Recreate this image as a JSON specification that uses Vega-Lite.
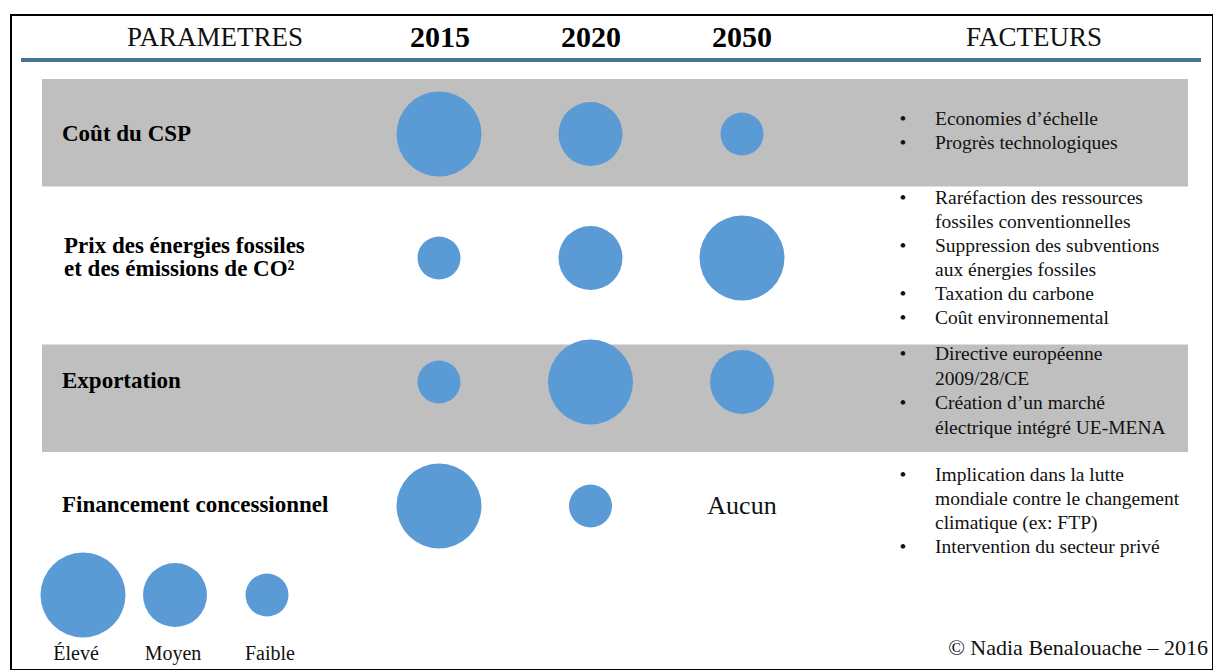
{
  "$schema": "https://vega.github.io/schema/vega-lite/v6.json",
  "width": 1202,
  "height": 655,
  "autosize": {"type": "none"},
  "padding": {"left": 11, "top": 15, "right": 0, "bottom": 0},
  "background": "white",
  "config": {
    "view": {"stroke": "#000000", "strokeWidth": 2},
    "font": "Liberation Serif",
    "text": {"font": "Liberation Serif", "color": "#111111"}
  },
  "resolve": {"scale": {"x": "independent", "y": "independent"}},
  "datasets": {
    "cercles": [
      {"parametre": "Coût du CSP", "annee": "2015", "niveau": "Élevé"},
      {"parametre": "Coût du CSP", "annee": "2020", "niveau": "Moyen"},
      {"parametre": "Coût du CSP", "annee": "2050", "niveau": "Faible"},
      {"parametre": "Prix des énergies fossiles et des émissions de CO²", "annee": "2015", "niveau": "Faible"},
      {"parametre": "Prix des énergies fossiles et des émissions de CO²", "annee": "2020", "niveau": "Moyen"},
      {"parametre": "Prix des énergies fossiles et des émissions de CO²", "annee": "2050", "niveau": "Élevé"},
      {"parametre": "Exportation", "annee": "2015", "niveau": "Faible"},
      {"parametre": "Exportation", "annee": "2020", "niveau": "Élevé"},
      {"parametre": "Exportation", "annee": "2050", "niveau": "Moyen"},
      {"parametre": "Financement concessionnel", "annee": "2015", "niveau": "Élevé"},
      {"parametre": "Financement concessionnel", "annee": "2020", "niveau": "Faible"}
    ],
    "lignes": [
      {"parametre": "Coût du CSP", "libelle": "Coût du CSP", "facteurs": ["Economies d’échelle", "Progrès technologiques"], "puces": ["•", "•"]},
      {"parametre": "Prix des énergies fossiles et des émissions de CO²", "libelle": ["Prix des énergies fossiles", "et des émissions de CO²"], "facteurs": ["Raréfaction des ressources", "fossiles conventionnelles", "Suppression des subventions", "aux énergies fossiles", "Taxation du carbone", "Coût environnemental"], "puces": ["•", "\u2800", "•", "\u2800", "•", "•"]},
      {"parametre": "Exportation", "libelle": "Exportation", "facteurs": ["Directive européenne", "2009/28/CE", "Création d’un marché", "électrique intégré UE-MENA"], "puces": ["•", "\u2800", "•", "\u2800"]},
      {"parametre": "Financement concessionnel", "libelle": "Financement concessionnel", "facteurs": ["Implication dans la lutte", "mondiale contre le changement", "climatique (ex: FTP)", "Intervention du secteur privé"], "puces": ["•", "\u2800", "\u2800", "•"]}
    ]
  },
  "layer": [
    {
      "data": {"values": [
        {"ligne": "Coût du CSP", "de": "PARAMETRES", "a": "FACTEURS"},
        {"ligne": "Exportation", "de": "PARAMETRES", "a": "FACTEURS"}
      ]},
      "mark": {"type": "rect", "color": "#bfbfbf"},
      "encoding": {
        "x": {"field": "de", "type": "nominal", "scale": {"type": "point", "domain": ["PARAMETRES", "FACTEURS"], "range": [31, 1177], "padding": 0}, "axis": null},
        "x2": {"field": "a"},
        "y": {"field": "ligne", "type": "nominal", "scale": {"type": "band", "domain": ["Coût du CSP", "Exportation"], "range": [64, 437], "paddingInner": 0.595, "paddingOuter": 0}, "axis": null}
      }
    },
    {
      "data": {"values": [{"de": "gauche", "a": "droite", "ligne": "filet"}]},
      "mark": {"type": "rule", "color": "#4a7494", "strokeWidth": 4},
      "encoding": {
        "x": {"field": "de", "type": "nominal", "scale": {"type": "point", "domain": ["gauche", "droite"], "range": [10, 1190], "padding": 0}, "axis": null},
        "x2": {"field": "a"},
        "y": {"field": "ligne", "type": "nominal", "scale": {"type": "point", "domain": ["filet"], "range": [44, 46]}, "axis": null}
      }
    },
    {
      "data": {"values": [
        {"colonne": "PARAMETRES", "ligne": "en-tête"},
        {"colonne": "FACTEURS", "ligne": "en-tête"}
      ]},
      "mark": {"type": "text", "fontSize": 27, "align": "center", "baseline": "middle"},
      "encoding": {
        "x": {"field": "colonne", "type": "nominal", "scale": {"type": "point", "domain": ["PARAMETRES", "FACTEURS"], "range": [204, 1023], "padding": 0}, "axis": null},
        "y": {"field": "ligne", "type": "nominal", "scale": {"type": "point", "domain": ["en-tête"], "range": [22, 24]}, "axis": null},
        "text": {"field": "colonne"}
      }
    },
    {
      "data": {"values": [
        {"annee": "2015", "ligne": "en-tête"},
        {"annee": "2020", "ligne": "en-tête"},
        {"annee": "2050", "ligne": "en-tête"}
      ]},
      "mark": {"type": "text", "fontSize": 30, "fontWeight": "bold", "align": "center", "baseline": "middle", "color": "#000000"},
      "encoding": {
        "x": {"field": "annee", "type": "nominal", "scale": {"type": "point", "domain": ["2015", "2020", "2050"], "range": [429, 731], "padding": 0}, "axis": null},
        "y": {"field": "ligne", "type": "nominal", "scale": {"type": "point", "domain": ["en-tête"], "range": [22, 24]}, "axis": null},
        "text": {"field": "annee"}
      }
    },
    {
      "data": {"name": "cercles"},
      "mark": {"type": "circle", "color": "#5b9bd5", "opacity": 1},
      "encoding": {
        "x": {"field": "annee", "type": "nominal", "scale": {"type": "point", "domain": ["2015", "2020", "2050"], "range": [428, 731], "padding": 0}, "axis": null},
        "y": {"field": "parametre", "type": "nominal", "scale": {"type": "point", "domain": ["Coût du CSP", "Prix des énergies fossiles et des émissions de CO²", "Exportation", "Financement concessionnel"], "range": [119, 491], "padding": 0}, "axis": null},
        "size": {"field": "niveau", "type": "ordinal", "scale": {"type": "ordinal", "domain": ["Élevé", "Moyen", "Faible"], "range": [7225, 4096, 1849]}, "legend": null}
      }
    },
    {
      "data": {"values": [{"parametre": "Financement concessionnel", "annee": "2050", "texte": "Aucun"}]},
      "mark": {"type": "text", "fontSize": 26, "align": "center", "baseline": "middle"},
      "encoding": {
        "x": {"field": "annee", "type": "nominal", "scale": {"type": "point", "domain": ["2015", "2020", "2050"], "range": [428, 731], "padding": 0}, "axis": null},
        "y": {"field": "parametre", "type": "nominal", "scale": {"type": "point", "domain": ["Coût du CSP", "Prix des énergies fossiles et des émissions de CO²", "Exportation", "Financement concessionnel"], "range": [119, 491], "padding": 0}, "axis": null},
        "text": {"field": "texte"}
      }
    },
    {
      "data": {"name": "lignes"},
      "transform": [{"filter": "datum.parametre !== 'Prix des énergies fossiles et des émissions de CO²'"}],
      "mark": {"type": "text", "fontSize": 23, "fontWeight": "bold", "align": "left", "baseline": "middle", "color": "#000000"},
      "encoding": {
        "x": {"datum": "PARAMETRES", "type": "nominal", "scale": {"type": "point", "domain": ["PARAMETRES"], "range": [50, 52]}, "axis": null},
        "y": {"field": "parametre", "type": "nominal", "scale": {"type": "point", "domain": ["Coût du CSP", "Prix des énergies fossiles et des émissions de CO²", "Exportation", "Financement concessionnel"], "range": [119, 490], "padding": 0}, "axis": null},
        "text": {"field": "libelle"}
      }
    },
    {
      "data": {"name": "lignes"},
      "transform": [{"filter": "datum.parametre === 'Prix des énergies fossiles et des émissions de CO²'"}],
      "mark": {"type": "text", "fontSize": 23, "fontWeight": "bold", "align": "left", "baseline": "middle", "lineHeight": 23, "dy": -11.5, "color": "#000000"},
      "encoding": {
        "x": {"datum": "PARAMETRES", "type": "nominal", "scale": {"type": "point", "domain": ["PARAMETRES"], "range": [52, 54]}, "axis": null},
        "y": {"field": "parametre", "type": "nominal", "scale": {"type": "point", "domain": ["Coût du CSP", "Prix des énergies fossiles et des émissions de CO²", "Exportation", "Financement concessionnel"], "range": [119, 490], "padding": 0}, "axis": null},
        "text": {"field": "libelle"}
      }
    },
    {
      "data": {"name": "lignes"},
      "transform": [{"filter": "datum.parametre === 'Coût du CSP'"}],
      "mark": {"type": "text", "fontSize": 19.5, "align": "center", "baseline": "middle", "lineHeight": 24, "dy": -12},
      "encoding": {
        "x": {"datum": "puces", "type": "nominal", "scale": {"type": "point", "domain": ["puces"], "range": [891, 893]}, "axis": null},
        "y": {"field": "parametre", "type": "nominal", "scale": {"type": "point", "domain": ["Coût du CSP", "Prix des énergies fossiles et des émissions de CO²", "Exportation", "Financement concessionnel"], "range": [116, 496], "padding": 0}, "axis": null},
        "text": {"field": "puces"}
      }
    },
    {
      "data": {"name": "lignes"},
      "transform": [{"filter": "datum.parametre === 'Coût du CSP'"}],
      "mark": {"type": "text", "fontSize": 19.5, "align": "left", "baseline": "middle", "lineHeight": 24, "dy": -12},
      "encoding": {
        "x": {"datum": "FACTEURS", "type": "nominal", "scale": {"type": "point", "domain": ["FACTEURS"], "range": [923, 925]}, "axis": null},
        "y": {"field": "parametre", "type": "nominal", "scale": {"type": "point", "domain": ["Coût du CSP", "Prix des énergies fossiles et des émissions de CO²", "Exportation", "Financement concessionnel"], "range": [116, 496], "padding": 0}, "axis": null},
        "text": {"field": "facteurs"}
      }
    },
    {
      "data": {"name": "lignes"},
      "transform": [{"filter": "datum.parametre === 'Prix des énergies fossiles et des émissions de CO²'"}],
      "mark": {"type": "text", "fontSize": 19.5, "align": "center", "baseline": "middle", "lineHeight": 24, "dy": -60},
      "encoding": {
        "x": {"datum": "puces", "type": "nominal", "scale": {"type": "point", "domain": ["puces"], "range": [891, 893]}, "axis": null},
        "y": {"field": "parametre", "type": "nominal", "scale": {"type": "point", "domain": ["Coût du CSP", "Prix des énergies fossiles et des émissions de CO²", "Exportation", "Financement concessionnel"], "range": [116, 496], "padding": 0}, "axis": null},
        "text": {"field": "puces"}
      }
    },
    {
      "data": {"name": "lignes"},
      "transform": [{"filter": "datum.parametre === 'Prix des énergies fossiles et des émissions de CO²'"}],
      "mark": {"type": "text", "fontSize": 19.5, "align": "left", "baseline": "middle", "lineHeight": 24, "dy": -60},
      "encoding": {
        "x": {"datum": "FACTEURS", "type": "nominal", "scale": {"type": "point", "domain": ["FACTEURS"], "range": [923, 925]}, "axis": null},
        "y": {"field": "parametre", "type": "nominal", "scale": {"type": "point", "domain": ["Coût du CSP", "Prix des énergies fossiles et des émissions de CO²", "Exportation", "Financement concessionnel"], "range": [116, 496], "padding": 0}, "axis": null},
        "text": {"field": "facteurs"}
      }
    },
    {
      "data": {"name": "lignes"},
      "transform": [{"filter": "datum.parametre === 'Exportation'"}],
      "mark": {"type": "text", "fontSize": 19.5, "align": "center", "baseline": "middle", "lineHeight": 24.5, "dy": -30},
      "encoding": {
        "x": {"datum": "puces", "type": "nominal", "scale": {"type": "point", "domain": ["puces"], "range": [891, 893]}, "axis": null},
        "y": {"field": "parametre", "type": "nominal", "scale": {"type": "point", "domain": ["Coût du CSP", "Prix des énergies fossiles et des émissions de CO²", "Exportation", "Financement concessionnel"], "range": [116, 496], "padding": 0}, "axis": null},
        "text": {"field": "puces"}
      }
    },
    {
      "data": {"name": "lignes"},
      "transform": [{"filter": "datum.parametre === 'Exportation'"}],
      "mark": {"type": "text", "fontSize": 19.5, "align": "left", "baseline": "middle", "lineHeight": 24.5, "dy": -30},
      "encoding": {
        "x": {"datum": "FACTEURS", "type": "nominal", "scale": {"type": "point", "domain": ["FACTEURS"], "range": [923, 925]}, "axis": null},
        "y": {"field": "parametre", "type": "nominal", "scale": {"type": "point", "domain": ["Coût du CSP", "Prix des énergies fossiles et des émissions de CO²", "Exportation", "Financement concessionnel"], "range": [116, 496], "padding": 0}, "axis": null},
        "text": {"field": "facteurs"}
      }
    },
    {
      "data": {"name": "lignes"},
      "transform": [{"filter": "datum.parametre === 'Financement concessionnel'"}],
      "mark": {"type": "text", "fontSize": 19.5, "align": "center", "baseline": "middle", "lineHeight": 24, "dy": -36},
      "encoding": {
        "x": {"datum": "puces", "type": "nominal", "scale": {"type": "point", "domain": ["puces"], "range": [891, 893]}, "axis": null},
        "y": {"field": "parametre", "type": "nominal", "scale": {"type": "point", "domain": ["Coût du CSP", "Prix des énergies fossiles et des émissions de CO²", "Exportation", "Financement concessionnel"], "range": [116, 496], "padding": 0}, "axis": null},
        "text": {"field": "puces"}
      }
    },
    {
      "data": {"name": "lignes"},
      "transform": [{"filter": "datum.parametre === 'Financement concessionnel'"}],
      "mark": {"type": "text", "fontSize": 19.5, "align": "left", "baseline": "middle", "lineHeight": 24, "dy": -36},
      "encoding": {
        "x": {"datum": "FACTEURS", "type": "nominal", "scale": {"type": "point", "domain": ["FACTEURS"], "range": [923, 925]}, "axis": null},
        "y": {"field": "parametre", "type": "nominal", "scale": {"type": "point", "domain": ["Coût du CSP", "Prix des énergies fossiles et des émissions de CO²", "Exportation", "Financement concessionnel"], "range": [116, 496], "padding": 0}, "axis": null},
        "text": {"field": "facteurs"}
      }
    },
    {
      "data": {"values": [{"niveau": "Élevé"}, {"niveau": "Moyen"}, {"niveau": "Faible"}]},
      "mark": {"type": "circle", "color": "#5b9bd5", "opacity": 1},
      "encoding": {
        "x": {"field": "niveau", "type": "nominal", "scale": {"type": "point", "domain": ["Élevé", "Moyen", "Faible"], "range": [72, 256], "padding": 0}, "axis": null},
        "y": {"datum": "légende", "type": "nominal", "scale": {"type": "point", "domain": ["légende"], "range": [579, 581]}, "axis": null},
        "size": {"field": "niveau", "type": "ordinal", "scale": {"type": "ordinal", "domain": ["Élevé", "Moyen", "Faible"], "range": [7225, 4096, 1849]}, "legend": null}
      }
    },
    {
      "data": {"values": [{"niveau": "Élevé"}, {"niveau": "Moyen"}, {"niveau": "Faible"}]},
      "mark": {"type": "text", "fontSize": 20, "align": "center", "baseline": "middle"},
      "encoding": {
        "x": {"field": "niveau", "type": "nominal", "scale": {"type": "point", "domain": ["Élevé", "Moyen", "Faible"], "range": [65, 259], "padding": 0}, "axis": null},
        "y": {"datum": "libellé", "type": "nominal", "scale": {"type": "point", "domain": ["libellé"], "range": [638, 640]}, "axis": null},
        "text": {"field": "niveau"}
      }
    },
    {
      "data": {"values": [{"source": "© Nadia Benalouache – 2016"}]},
      "mark": {"type": "text", "fontSize": 22, "align": "right", "baseline": "middle"},
      "encoding": {
        "x": {"datum": "droite", "type": "nominal", "scale": {"type": "point", "domain": ["droite"], "range": [1196, 1198]}, "axis": null},
        "y": {"datum": "bas", "type": "nominal", "scale": {"type": "point", "domain": ["bas"], "range": [632, 634]}, "axis": null},
        "text": {"field": "source"}
      }
    }
  ]
}
